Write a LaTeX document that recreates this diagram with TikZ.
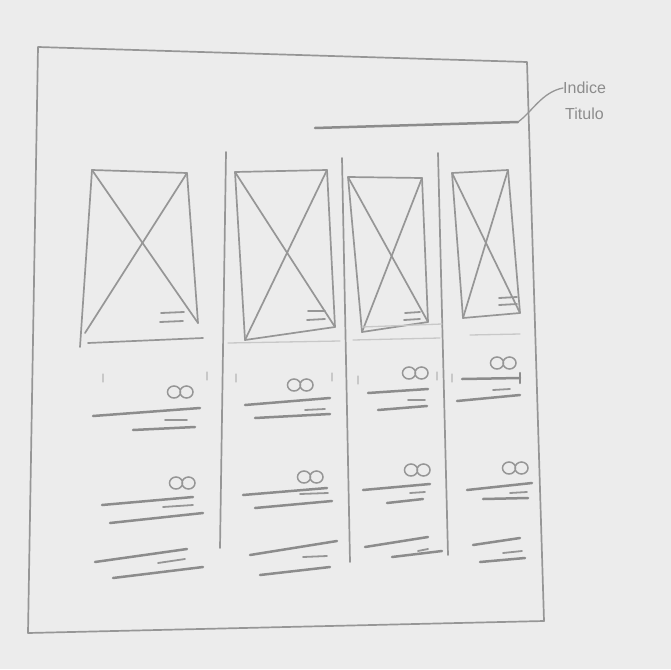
\documentclass[tikz,border=0pt]{standalone}
\usepackage{fontspec}
\setmainfont{Liberation Sans}
\definecolor{paper}{RGB}{236,236,236}
\definecolor{penc}{RGB}{150,150,150}
\definecolor{pencd}{RGB}{140,140,140}
\definecolor{pencl}{RGB}{200,200,200}
\tikzset{
  outline/.style={draw=penc, line width=1.7pt, line cap=round, line join=round},
  stroke/.style={draw=pencd, line width=2.5pt, line cap=round},
  shortstroke/.style={draw=penc, line width=1.8pt, line cap=round},
  faint/.style={draw=pencl, line width=1.3pt, line cap=round},
  divider/.style={draw=penc, line width=1.7pt, line cap=round},
  oo/.pic={\draw[penc, line width=1.5pt] (-6,0) circle [x radius=6.5pt, y radius=6pt] (6.5,0) circle [x radius=6.5pt, y radius=6pt];},
  hand/.style={text=pencd, font=\fontsize{16}{17}\selectfont, inner sep=0pt}
}
\begin{document}
\begin{tikzpicture}[x=1pt,y=-1pt]
\useasboundingbox[fill=paper] (0,0) rectangle (671,669);
% outer frame
\draw[outline] (38,47) -- (527,62) -- (544,621) -- (28,633) -- cycle;
% title line and label
\coordinate (tl) at (315,128);
\coordinate (tr) at (518,122);
\draw[stroke] (tl) -- (tr);
\node[hand, anchor=west] (lab1) at (563,88) {Indice};
\node[hand, anchor=west] (lab2) at (565,114) {Titulo};
\draw[outline, line width=1.3pt] (tr) .. controls (532,112) and (542,92) .. (lab1.west);
% column dividers
\draw[divider] (226,152) -- (220,548);
\draw[divider] (342,158) -- (350,562);
\draw[divider] (438,153) -- (448,555);
% image boxes
\draw[outline] (92,170) -- (187,173) -- (198,323);
\draw[outline] (92,170) -- (80,347);
\draw[outline] (88,343) -- (203,338);
\draw[outline] (92,170) -- (198,323);
\draw[outline] (187,173) -- (85,333);
\draw[shortstroke] (161,313) -- (184,312) (160,322) -- (183,321);

\draw[outline] (235,172) -- (327,170) -- (335,327) -- (245,340) -- cycle;
\draw[outline] (235,172) -- (335,327);
\draw[outline] (327,170) -- (245,340);
\draw[shortstroke] (308,311) -- (325,311) (307,320) -- (325,319);

\draw[outline] (348,177) -- (422,178) -- (428,322) -- (362,332) -- cycle;
\draw[outline] (348,177) -- (428,322);
\draw[outline] (422,178) -- (362,332);
\draw[faint] (362,327) -- (442,324);
\draw[shortstroke] (405,313) -- (420,312) (404,320) -- (420,319);

\draw[outline] (452,173) -- (508,170) -- (520,313) -- (463,318) -- cycle;
\draw[outline] (452,173) -- (520,313);
\draw[outline] (508,170) -- (463,318);
\draw[shortstroke] (499,298) -- (517,297) (499,305) -- (517,304);
% faint lines under boxes
\draw[faint] (228,343) -- (340,341);
\draw[faint] (353,340) -- (440,338);
\draw[faint] (470,335) -- (520,334);
% small ticks
\foreach \x/\y in {103/378,207/376,236/378,332/377,358/380,437/376,452/378}
  \draw[faint] (\x,\y-4) -- (\x,\y+4);
% column 1 blocks
\pic at (180,392) {oo};
\draw[stroke] (93,416) -- (200,408);
\draw[shortstroke] (165,420) -- (187,420);
\draw[stroke] (133,430) -- (195,427);
\pic at (182,483) {oo};
\draw[stroke] (102,505) -- (193,497);
\draw[shortstroke] (163,507) -- (193,505);
\draw[stroke] (110,523) -- (203,513);
\draw[stroke] (95,562) -- (187,549);
\draw[shortstroke] (158,563) -- (185,559);
\draw[stroke] (113,578) -- (203,567);
% column 2 blocks
\pic at (300,385) {oo};
\draw[stroke] (245,405) -- (330,398);
\draw[shortstroke] (305,410) -- (325,409);
\draw[stroke] (255,418) -- (330,414);
\pic at (310,477) {oo};
\draw[stroke] (243,495) -- (327,488);
\draw[shortstroke] (300,494) -- (328,493);
\draw[stroke] (255,508) -- (332,501);
\draw[stroke] (250,555) -- (337,541);
\draw[shortstroke] (303,557) -- (327,556);
\draw[stroke] (260,575) -- (330,567);
% column 3 blocks
\pic at (415,373) {oo};
\draw[stroke] (368,393) -- (428,389);
\draw[shortstroke] (408,400) -- (425,400);
\draw[stroke] (378,410) -- (427,406);
\pic at (417,470) {oo};
\draw[stroke] (363,490) -- (430,484);
\draw[shortstroke] (410,493) -- (425,492);
\draw[stroke] (387,503) -- (423,499);
\draw[stroke] (365,547) -- (428,537);
\draw[shortstroke] (418,551) -- (428,549);
\draw[stroke] (392,557) -- (442,551);
% column 4 blocks
\pic at (503,363) {oo};
\draw[stroke] (462,379) -- (520,378);
\draw[stroke] (520,373) -- (520,383);
\draw[shortstroke] (493,390) -- (510,389);
\draw[stroke] (457,401) -- (520,395);
\pic at (515,468) {oo};
\draw[stroke] (467,490) -- (532,483);
\draw[shortstroke] (510,493) -- (527,492);
\draw[stroke] (483,499) -- (528,498);
\draw[stroke] (473,545) -- (520,538);
\draw[shortstroke] (503,553) -- (522,551);
\draw[stroke] (480,562) -- (525,558);
\end{tikzpicture}
\end{document}
